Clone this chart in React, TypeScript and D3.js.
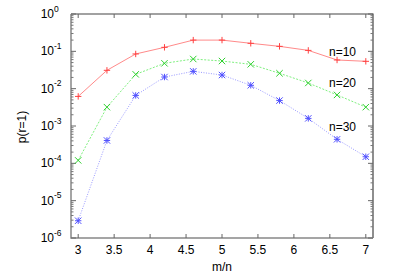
import React from 'react';
import * as d3 from 'd3';

// ratio m/n
const xs = [3, 3.4, 3.8, 4.2, 4.6, 5.0, 5.4, 5.8, 6.2, 6.6, 7.0];
const n10 = [6.2e-3, 0.031, 0.085, 0.128, 0.2, 0.2, 0.164, 0.136, 0.106, 0.0586, 0.054];
const n20 = [1.2e-4, 3.2e-3, 0.0242, 0.0478, 0.0623, 0.055, 0.0449, 0.0258, 0.0142, 6.8e-3, 3.2e-3];
const n30 = [2.9e-6, 4.1e-4, 6.6e-3, 0.0205, 0.0291, 0.0232, 0.0123, 4.8e-3, 1.6e-3, 4.4e-4, 1.5e-4];
const xTicks = [3, 3.5, 4, 4.5, 5, 5.5, 6, 6.5, 7];
const yExps = [0, -1, -2, -3, -4, -5, -6];
const seriesLabels = ['n=10', 'n=20', 'n=30'];

const W = 393;
const H = 275;
const left = 71, right = 373, top = 14, bottom = 238;
const font = 'Liberation Sans, Arial, Helvetica, sans-serif';

export default function App() {
  const x = d3.scaleLinear().domain([2.9, 7.1]).range([left, right]);
  const y = d3.scaleLog().domain([1e-6, 1]).range([bottom, top]);

  const line = d3
    .line<number>()
    .x((_, i) => x(xs[i]))
    .y((d) => y(d));

  const series = [
    { vals: n10, color: '#ff4040', lc: '#ff8a8a', dash: undefined, mark: 'plus', labelY: 55.5 },
    { vals: n20, color: '#30d030', lc: '#80f080', dash: '2,1.5', mark: 'cross', labelY: 87 },
    { vals: n30, color: '#5050ff', lc: '#9a9aff', dash: '1,1.5', mark: 'star', labelY: 131 },
  ];

  // minor ticks on log axis
  const minor: number[] = [];
  for (let e = -6; e < 0; e++) {
    for (let k = 2; k <= 9; k++) minor.push(k * Math.pow(10, e));
  }

  const marker = (kind: string, cx: number, cy: number, color: string, key: number) => {
    const s = 3.2;
    const plus = `M${cx - s},${cy}H${cx + s}M${cx},${cy - s}V${cy + s}`;
    const cross = `M${cx - s},${cy - s}L${cx + s},${cy + s}M${cx - s},${cy + s}L${cx + s},${cy - s}`;
    const d = kind === 'plus' ? plus : kind === 'cross' ? cross : plus + cross;
    return <path key={key} d={d} stroke={color} strokeWidth={1} fill="none" />;
  };

  return (
    <svg width={W} height={H} style={{ position: 'absolute', left: 0, top: 0 }} fontFamily={font}>
      <rect width={W} height={H} fill="#fff" />

      {/* border */}
      <path d={`M${left},${top}H${right}V${bottom}`} stroke="#444" fill="none" strokeWidth={1.2} />
      <path d={`M${left},${top}V${bottom}H${right}`} stroke="#888" fill="none" strokeWidth={1.5} />

      {/* y ticks */}
      {yExps.map((e) => {
        const yy = y(Math.pow(10, e));
        return (
          <g key={e}>
            <line x1={left} x2={left + 5} y1={yy} y2={yy} stroke="#666" />
            <line x1={right} x2={right - 5} y1={yy} y2={yy} stroke="#666" />
            <text x={54} y={yy + 4} textAnchor="end" fontSize={12} fill="#000">
              10
            </text>
            <text x={54} y={yy - 2.5} fontSize={8.5} fill="#000">
              {e}
            </text>
          </g>
        );
      })}
      {minor.map((v, i) => {
        const yy = y(v);
        return (
          <g key={'m' + i}>
            <line x1={left} x2={left + 2.5} y1={yy} y2={yy} stroke="#777" />
            <line x1={right} x2={right - 2.5} y1={yy} y2={yy} stroke="#777" />
          </g>
        );
      })}

      {/* x ticks */}
      {xTicks.map((t) => {
        const xx = x(t);
        return (
          <g key={t}>
            <line x1={xx} x2={xx} y1={bottom} y2={bottom - 4} stroke="#666" />
            <line x1={xx} x2={xx} y1={top} y2={top + 4} stroke="#666" />
            <text x={xx} y={bottom + 16} textAnchor="middle" fontSize={12} fill="#000">
              {t}
            </text>
          </g>
        );
      })}

      {/* series */}
      {series.map((s, si) => (
        <g key={si}>
          <path
            d={line(s.vals) || ''}
            fill="none"
            stroke={s.lc}
            strokeWidth={1}
            strokeDasharray={s.dash}
          />
          {s.vals.map((v, i) => marker(s.mark, x(xs[i]), y(v), s.color, i))}
          <text x={356} y={s.labelY} textAnchor="end" fontSize={12} fill="#000">
            {seriesLabels[si]}
          </text>
        </g>
      ))}

      {/* axis labels */}
      <text x={222} y={271} textAnchor="middle" fontSize={12} fill="#000">
        m/n
      </text>
      <text
        transform={`translate(26,127) rotate(-90)`}
        textAnchor="middle"
        fontSize={12}
        fill="#000"
      >
        p(r=1)
      </text>
    </svg>
  );
}
